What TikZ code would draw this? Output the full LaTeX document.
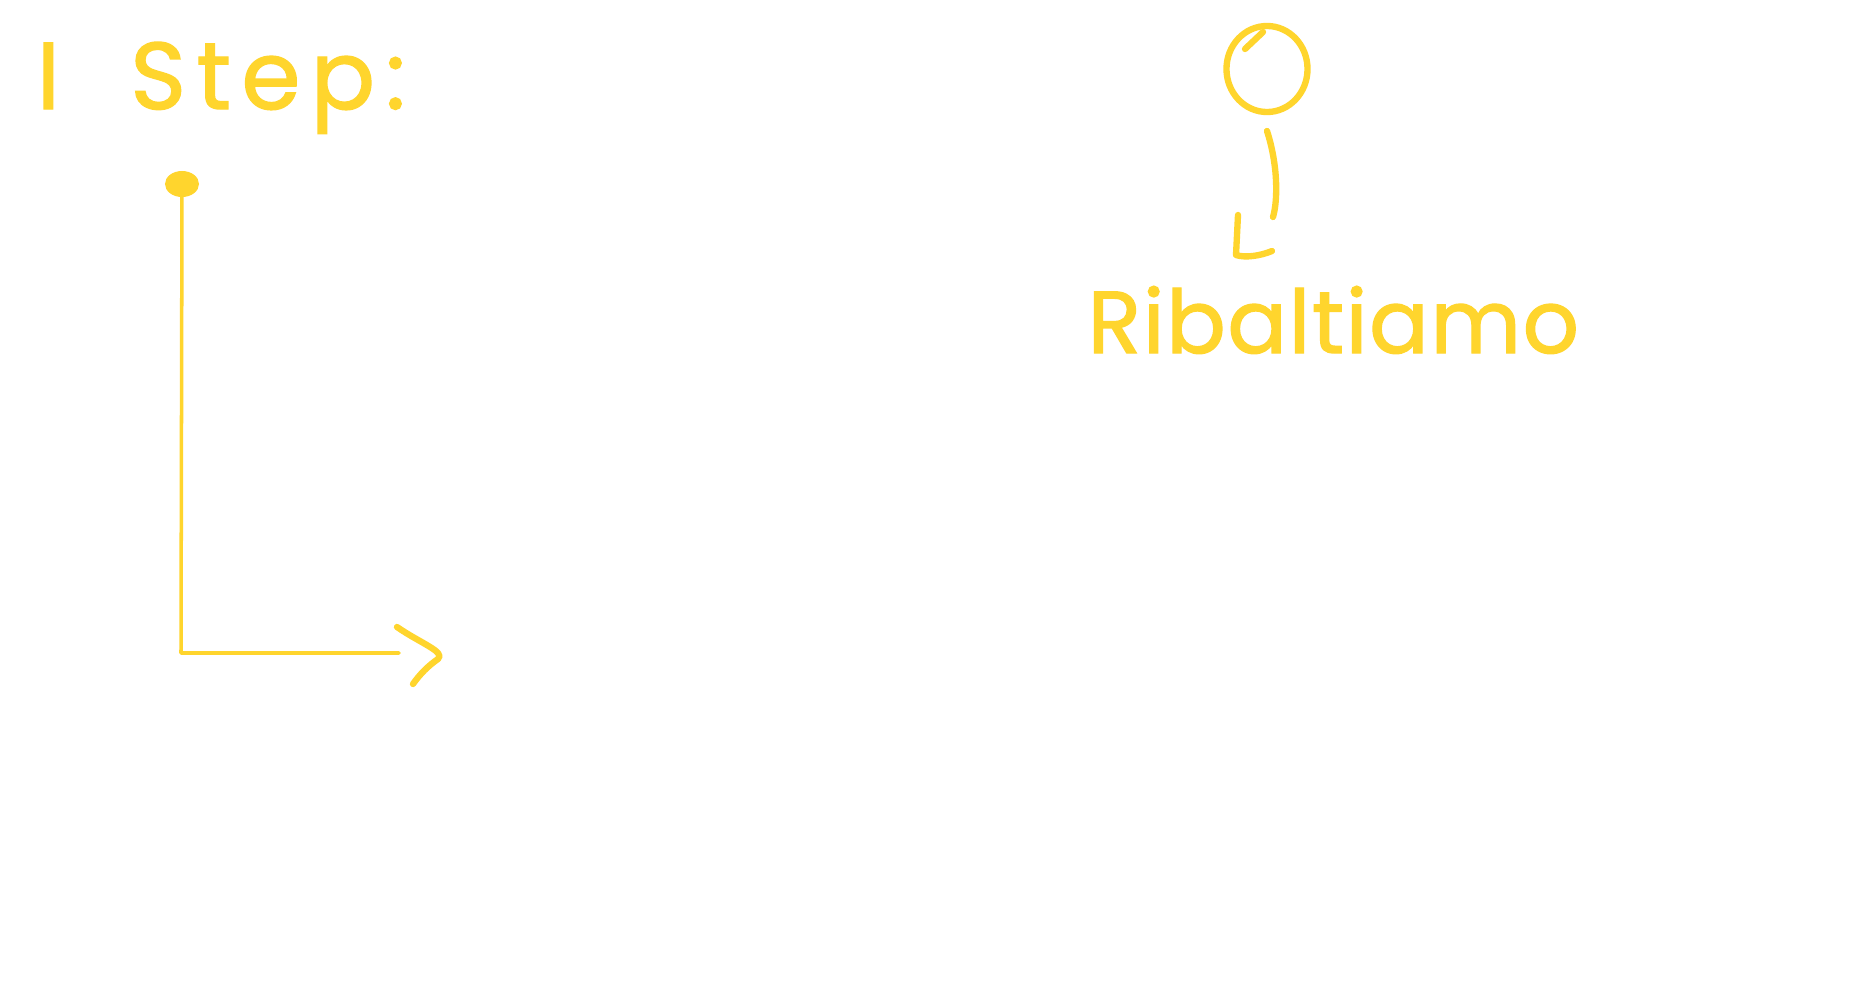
\documentclass[tikz,border=0pt]{standalone}
\usepackage{fontspec}
\newfontfamily\handfont{Poppins}[LetterSpace=2,FakeBold=1.5]
\newfontfamily\handwide{Poppins}[LetterSpace=11,FakeBold=1.5]
\definecolor{sketchyellow}{RGB}{255,213,45}
\usetikzlibrary{shapes.geometric}
\begin{document}
\begin{tikzpicture}[
            x=0.01cm,y=-0.01cm,
            every node/.style={
                text=sketchyellow,inner sep=0pt
            },
            pen/.style={draw=sketchyellow,line width=1pt,line cap=round,line join=round},
            thickpen/.style={pen,line width=1.8pt}
        ]
    % Sheet
        \fill[white] (0,0) rectangle (1863,1000);
        \useasboundingbox (0,0) rectangle (1863,1000);
    % Title
        \node[font=\handwide\fontsize{27}{30}\selectfont,anchor=base west] (title) at (36,109) {I\hspace{20pt}Step:};
    % First shape
        \node[ellipse,fill=sketchyellow,minimum width=0.34cm,minimum height=0.26cm] (dot) at (182,184) {};
        \coordinate (corner) at (181,653);
        \coordinate (axisend) at (399,653);
        \draw[pen] (dot.center) -- (corner) -- (axisend);
        \draw[thickpen] (397,627) .. controls (420,643) and (446,652) .. (438,659)
            .. controls (428,666) and (420,674) .. (413,684);
    % Flipped shape
        \node[ellipse,draw=sketchyellow,line width=1.8pt,minimum width=0.81cm,minimum height=0.86cm] (head) at (1267,69) {};
        \draw[thickpen] (1245,49) -- (1263,32);
        \draw[thickpen] (1267,131) .. controls (1278,165) and (1278,200) .. (1273,217);
        \draw[thickpen] (1238,215) .. controls (1238,235) .. (1236,255)
            .. controls (1245,258) and (1260,256) .. (1272,251);
    % Labels
        \node[font=\handfont\fontsize{25}{28}\selectfont,anchor=base west] (caption) at (1087,353) {Ribaltiamo};
\end{tikzpicture}
\end{document}
